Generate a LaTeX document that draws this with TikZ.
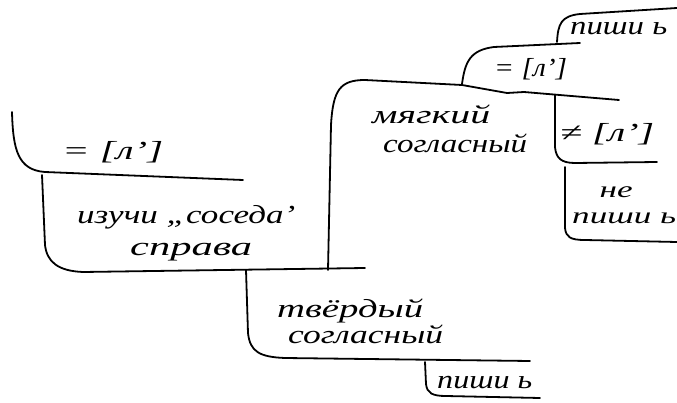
\documentclass[tikz,border=0pt]{standalone}
\usepackage{fontspec}
\setmainfont{Liberation Serif}
\usepackage{graphicx}
\tikzset{
  hand/.style={line width=1.8pt, line cap=round, line join=round},
  lbl/.style={anchor=base west, inner sep=0pt, font=\fontsize{26}{28}\selectfont\itshape},
  lblsm/.style={lbl, font=\fontsize{23}{26}\selectfont\itshape},
}
\newcommand\hw[2]{\resizebox{#1pt}{\height}{#2}}
\begin{document}
\begin{tikzpicture}[x=1pt,y=-1pt]
\useasboundingbox (0,0) rectangle (677,403);
\fill[white] (0,0) rectangle (677,403);
% brackets
\draw[hand] (12,112) .. controls (13,150) and (18,170) .. (45,172) -- (243,180);
\draw[hand] (42,175) -- (45,245) .. controls (47,262) and (58,271) .. (83,272) -- (365,268);
\draw[hand] (328,270) -- (331,125) .. controls (333,90) and (340,80) .. (365,80) -- (462,85) -- (507,93) -- (524,92) -- (619,100);
\draw[hand] (462,84) .. controls (465,62) and (470,50) .. (494,47) -- (580,43);
\draw[hand] (557,42) .. controls (558,24) and (561,16) .. (580,14) -- (677,8);
\draw[hand] (555,95) -- (555,147) .. controls (556,158) and (561,163) .. (575,163) -- (657,162);
\draw[hand] (565,167) -- (565,228) .. controls (566,237) and (570,240) .. (585,240) -- (677,242);
\draw[hand] (246,270) -- (248,333) .. controls (250,352) and (260,357) .. (285,358) -- (530,361);
\draw[hand] (425,362) -- (426,384) .. controls (427,393) and (432,396) .. (446,396) -- (540,398);
% labels
\node[lbl] (l1) at (62,160) {\hw{101}{= [л']}};
\node[lbl] (r1) at (77,224) {\hw{218}{изучи „соседа’}};
\node[lbl] (r2) at (130,256) {\hw{122}{справа}};
\node[lbl] (m1) at (372,124) {\hw{118}{мягкий}};
\node[lbl] (m2) at (383,153) {\hw{144}{согласный}};
\node[lbl] (e1) at (494,77) {\hw{73}{= [л']}};
\node[lbl] (w1) at (570,35) {\hw{97}{пиши ь}};
\node[lbl] (n1) at (560,142) {\hw{94}{≠ [л']}};
\node[lblsm] (n2) at (572,224) {\hw{104}{\begin{tabular}[b]{@{}l@{}}\hspace{18pt}не\\пиши ь\end{tabular}}};
\node[lbl] (t1) at (277,317) {\hw{146}{твёрдый}};
\node[lbl] (t2) at (288,343) {\hw{155}{согласный}};
\node[lbl] (w2) at (437,388) {\hw{95}{пиши ь}};
\end{tikzpicture}
\end{document}
